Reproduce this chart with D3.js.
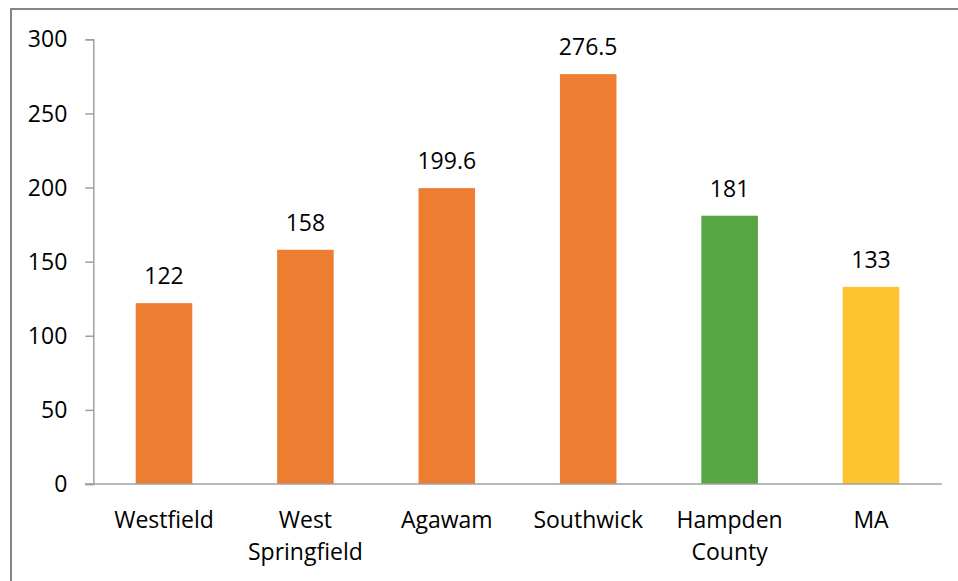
<!DOCTYPE html>
<html>
<head>
<meta charset="utf-8">
<script src="https://cdn.jsdelivr.net/npm/d3@7"></script>
<style>
  html, body { margin: 0; padding: 0; background: #fff; }
  svg { display: block; font-family: "Open Sans", sans-serif; }
</style>
</head>
<body>
<svg id="chart" width="958" height="581"></svg>
<script>
const categories = [["Westfield"], ["West", "Springfield"], ["Agawam"], ["Southwick"], ["Hampden", "County"], ["MA"]];
const values = [122, 158, 199.6, 276.5, 181, 133];
const valueLabels = ["122", "158", "199.6", "276.5", "181", "133"];
const barColors = ["#ED7D31", "#ED7D31", "#ED7D31", "#ED7D31", "#58A546", "#FEC42D"];
const yTicks = [0, 50, 100, 150, 200, 250, 300];

(function () {
const svg = d3.select("#chart");
const W = 958, H = 581;

// outer border
svg.append("rect").attr("x", 11).attr("y", 9).attr("width", W + 10).attr("height", H + 10)
  .attr("fill", "none").attr("stroke", "#858585").attr("stroke-width", 2);

const mLeft = 93.3, mRight = 941.7, mTop = 39.3, mBottom = 484;
const keys = categories.map((c, i) => i);
const x = d3.scaleBand().domain(keys).range([mLeft, mRight]).paddingInner(0.6).paddingOuter(0.3);
const y = d3.scaleLinear().domain([0, 300]).range([mBottom, mTop]);

// bars
svg.append("g").selectAll("rect").data(values).join("rect")
  .attr("x", (d, i) => x(i))
  .attr("width", x.bandwidth())
  .attr("y", d => y(d))
  .attr("height", d => y(0) - y(d))
  .attr("fill", (d, i) => barColors[i]);

// y axis
const yAxis = d3.axisLeft(y).tickValues(yTicks).tickSize(8).tickPadding(18).tickFormat(d3.format("d"));
const gy = svg.append("g").attr("transform", `translate(${mLeft},0)`).call(yAxis);
gy.select(".domain").attr("stroke", "#A0A0A0").attr("stroke-width", 1.5);
gy.selectAll(".tick line").attr("stroke", "#A0A0A0").attr("stroke-width", 1.5);
gy.selectAll(".tick text").attr("font-size", 23).attr("fill", "#000").attr("font-family", "Open Sans").attr("dy", "0.33em");

// x axis
const xAxis = d3.axisBottom(x).tickSize(0).tickFormat("");
const gx = svg.append("g").attr("transform", `translate(0,${mBottom})`).call(xAxis);
gx.select(".domain").attr("stroke", "#A0A0A0").attr("stroke-width", 1.5)
  .attr("d", `M85,0H${mRight}`);

// x labels
const xl = svg.append("g").selectAll("text").data(categories).join("text")
  .attr("x", (d, i) => x(i) + x.bandwidth() / 2)
  .attr("y", 528)
  .attr("text-anchor", "middle")
  .attr("font-size", 23)
  .attr("fill", "#000");
xl.selectAll("tspan").data(d => d).join("tspan")
  .attr("x", function() { return d3.select(this.parentNode).attr("x"); })
  .attr("dy", (d, j) => j === 0 ? 0 : 32)
  .text(d => d);

// value labels
svg.append("g").selectAll("text").data(values).join("text")
  .attr("x", (d, i) => x(i) + x.bandwidth() / 2)
  .attr("y", d => y(d) - 19)
  .attr("text-anchor", "middle")
  .attr("font-size", 23)
  .attr("fill", "#000")
  .text((d, i) => valueLabels[i]);
})();
</script>
</body>
</html>
